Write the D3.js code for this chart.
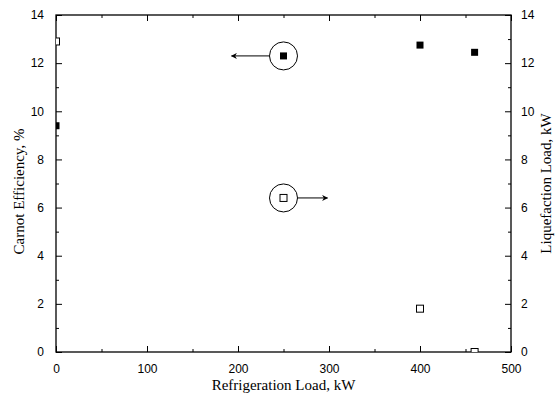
<!DOCTYPE html>
<html>
<head>
<meta charset="utf-8">
<script src="https://cdn.jsdelivr.net/npm/d3@7"></script>
<style>
  body { margin: 0; background: #fff; }
  .tick text { font-family: Arial, "Liberation Sans", sans-serif; font-size: 12px; }
  .title { font-family: "Times New Roman", "Liberation Serif", serif; font-size: 15px; }
</style>
</head>
<body>
<div id="chart"></div>
<script>
// refrigeration load, kW
var loads = [0, 250, 400, 460];
// Carnot efficiency, % (left axis, filled squares)
var carnot = [9.4, 12.3, 12.75, 12.45];
// liquefaction load, kW (right axis, open squares)
var liquefaction = [12.9, 6.4, 1.8, 0];

var xMajor = [0, 100, 200, 300, 400, 500];
var xMinor = [50, 150, 250, 350, 450];
var yMajor = [0, 2, 4, 6, 8, 10, 12, 14];
var yMinor = [1, 3, 5, 7, 9, 11, 13];

// the two circled markers with arrows pointing at their axis
var marked = [
  { x: 250, y: 12.3, dir: -1 },
  { x: 250, y: 6.4, dir: 1 }
];

var W = 555, H = 401;
var margin = { left: 56, right: 44, top: 15, bottom: 49 };
var w = W - margin.left - margin.right;
var h = H - margin.top - margin.bottom;

var svg = d3.select('#chart').append('svg').attr('width', W).attr('height', H);

svg.append('defs').append('clipPath').attr('id', 'plot')
  .append('rect').attr('width', w).attr('height', h);

svg.append('defs').append('marker')
  .attr('id', 'arrow')
  .attr('viewBox', '0 0 10 10')
  .attr('refX', 9).attr('refY', 5)
  .attr('markerWidth', 9).attr('markerHeight', 6)
  .attr('markerUnits', 'userSpaceOnUse')
  .attr('orient', 'auto')
  .append('path').attr('d', 'M0,0 L10,5 L0,10 L3,5 Z').style('fill', '#000');

var g = svg.append('g').attr('transform', 'translate(' + margin.left + ',' + margin.top + ')');

var x = d3.scaleLinear().domain([0, 500]).range([0, w]);
var yL = d3.scaleLinear().domain([0, 14]).range([h, 0]);
var yR = d3.scaleLinear().domain([0, 14]).range([h, 0]);

function styleAxis(sel) {
  sel.select('.domain').remove();
  sel.selectAll('line').style('stroke', '#000').style('stroke-width', '1px');
  sel.selectAll('text').style('fill', '#000');
}

// minor ticks (no labels)
g.append('g').attr('transform', 'translate(0,' + h + ')')
  .call(d3.axisBottom(x).tickValues(xMinor).tickSize(-3).tickFormat('')).call(styleAxis);
g.append('g')
  .call(d3.axisTop(x).tickValues(xMinor).tickSize(-3).tickFormat('')).call(styleAxis);
g.append('g')
  .call(d3.axisLeft(yL).tickValues(yMinor).tickSize(-3).tickFormat('')).call(styleAxis);
g.append('g').attr('transform', 'translate(' + w + ',0)')
  .call(d3.axisRight(yR).tickValues(yMinor).tickSize(-3).tickFormat('')).call(styleAxis);

// major ticks
g.append('g').attr('transform', 'translate(0,' + h + ')')
  .call(d3.axisBottom(x).tickValues(xMajor).tickSize(-6).tickPadding(12).tickFormat(d3.format('d')))
  .call(styleAxis);
g.append('g')
  .call(d3.axisTop(x).tickValues(xMajor).tickSize(-6).tickFormat('')).call(styleAxis);
g.append('g')
  .call(d3.axisLeft(yL).tickValues(yMajor).tickSize(-6).tickPadding(12).tickFormat(d3.format('d')))
  .call(styleAxis);
g.append('g').attr('transform', 'translate(' + w + ',0)')
  .call(d3.axisRight(yR).tickValues(yMajor).tickSize(-6).tickPadding(10).tickFormat(d3.format('d')))
  .call(styleAxis);

// frame
g.append('rect').attr('width', w).attr('height', h)
  .style('fill', 'none').style('stroke', '#000').style('stroke-width', '1.3px');

// data markers
var pts = g.append('g').attr('clip-path', 'url(#plot)');
var s = 7;
pts.selectAll('rect.carnot').data(loads).enter().append('rect')
  .attr('class', 'carnot')
  .attr('x', function(d) { return x(d) - s / 2; })
  .attr('y', function(d, i) { return yL(carnot[i]) - s / 2; })
  .attr('width', s).attr('height', s)
  .style('fill', '#000');

pts.selectAll('rect.liq').data(loads).enter().append('rect')
  .attr('class', 'liq')
  .attr('x', function(d) { return x(d) - s / 2; })
  .attr('y', function(d, i) { return yR(liquefaction[i]) - s / 2; })
  .attr('width', s).attr('height', s)
  .style('fill', '#fff').style('stroke', '#000').style('stroke-width', '1px');

// circles and arrows
var r = 14;
marked.forEach(function(m) {
  var cx = x(m.x), cy = yL(m.y);
  g.append('circle').attr('cx', cx).attr('cy', cy).attr('r', r)
    .style('fill', 'none').style('stroke', '#000').style('stroke-width', '1px');
  var x1 = cx + m.dir * r;
  var x2 = cx + m.dir * (m.dir < 0 ? 52 : 44);
  g.append('line').attr('x1', x1).attr('y1', cy).attr('x2', x2).attr('y2', cy)
    .style('stroke', '#000').style('stroke-width', '1px')
    .attr('marker-end', 'url(#arrow)');
});

// titles
svg.append('text').attr('class', 'title')
  .attr('x', margin.left + w / 2).attr('y', 390)
  .attr('text-anchor', 'middle')
  .text('Refrigeration Load, kW');

svg.append('text').attr('class', 'title')
  .attr('transform', 'translate(24,' + (margin.top + h / 2 + 8) + ') rotate(-90)')
  .attr('text-anchor', 'middle')
  .text('Carnot Efficiency, %');

svg.append('text').attr('class', 'title')
  .attr('transform', 'translate(551,' + (margin.top + h / 2) + ') rotate(-90)')
  .attr('text-anchor', 'middle')
  .text('Liquefaction Load, kW');
</script>
</body>
</html>
